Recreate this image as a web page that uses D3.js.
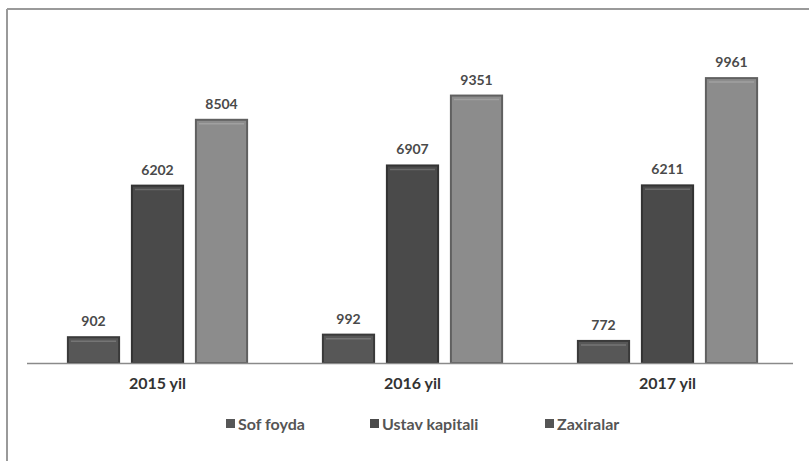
<!DOCTYPE html>
<html><head><meta charset="utf-8">
<script src="https://cdn.jsdelivr.net/npm/d3@7"></script>
<style>body{margin:0;background:#fff}svg{display:block}</style>
</head><body>
<script>
const categories = ["2015 yil", "2016 yil", "2017 yil"];
const seriesNames = ["Sof foyda", "Ustav kapitali", "Zaxiralar"];
const sofFoyda = [902, 992, 772];
const ustavKapitali = [6202, 6907, 6211];
const zaxiralar = [8504, 9351, 9961];
const seriesValues = [sofFoyda, ustavKapitali, zaxiralar];
const fills = ["#575757", "#4a4a4a", "#8c8c8c"];
const strokes = ["#3a3a3a", "#333333", "#606060"];

const W = 809, H = 461;
const svg = d3.select("body").append("svg").attr("width", W).attr("height", H);
const font = "Lato, 'Open Sans', sans-serif";

// frame
svg.append("line").attr("x1", 7).attr("x2", W).attr("y1", 9).attr("y2", 9).attr("stroke", "#9a9a9a").attr("stroke-width", 2);
svg.append("line").attr("x1", 7).attr("x2", 7).attr("y1", 9).attr("y2", H).attr("stroke", "#9a9a9a").attr("stroke-width", 2);

const x0 = d3.scaleBand().domain(categories).range([30, 795]);
const x1 = d3.scaleBand().domain(seriesNames).range([0, x0.bandwidth()]).paddingInner(0.2).paddingOuter(0.592);
const y = d3.scaleLinear().domain([0, 10000]).range([363, 77]);

const data = [];
categories.forEach((c, i) => seriesNames.forEach((s, j) => data.push({c, s, j, v: seriesValues[j][i]})));

const g = svg.append("g");
const bars = g.selectAll("g.bar").data(data).join("g").attr("class", "bar")
  .attr("transform", d => `translate(${x0(d.c) + x1(d.s)},0)`);
bars.append("rect")
  .attr("x", 0).attr("width", x1.bandwidth())
  .attr("y", d => y(d.v)).attr("height", d => y(0) - y(d.v))
  .attr("fill", d => fills[d.j]).attr("stroke", d => strokes[d.j]).attr("stroke-width", 2);
bars.append("line")
  .attr("x1", 3).attr("x2", x1.bandwidth() - 3)
  .attr("y1", d => y(d.v) + 4).attr("y2", d => y(d.v) + 4)
  .attr("stroke", "#ffffff").attr("stroke-opacity", 0.18).attr("stroke-width", 1.5);
bars.append("text")
  .attr("x", x1.bandwidth() / 2).attr("y", d => y(d.v) - 11)
  .attr("text-anchor", "middle").attr("font-family", font).attr("font-weight", "bold")
  .attr("font-size", 14).attr("fill", "#4a4a4a").text(d => d.v);

// x axis
const xAxis = svg.append("g").attr("transform", `translate(0,${y(0)})`)
  .call(d3.axisBottom(x0).tickSize(0).tickPadding(15));
xAxis.select(".domain").attr("stroke", "#8a8a8a").attr("stroke-width", 1.5).attr("d", "M27,0.5H793");
xAxis.selectAll("text").attr("font-family", font).attr("font-weight", "bold").attr("font-size", 16).attr("fill", "#333");

// legend
const legX = [226, 370, 545];
const leg = svg.append("g").selectAll("g").data(seriesNames).join("g")
  .attr("transform", (d, i) => `translate(${legX[i]},424)`);
leg.append("rect").attr("x", 0).attr("y", -5).attr("width", 9).attr("height", 9)
  .attr("fill", (d, i) => i === 2 ? "#555" : fills[i]);
leg.append("text").attr("x", 12).attr("y", 0).attr("dy", "0.35em")
  .attr("font-family", font).attr("font-weight", "bold").attr("font-size", 16).attr("fill", "#555")
  .text(d => d);
</script>
</body></html>
